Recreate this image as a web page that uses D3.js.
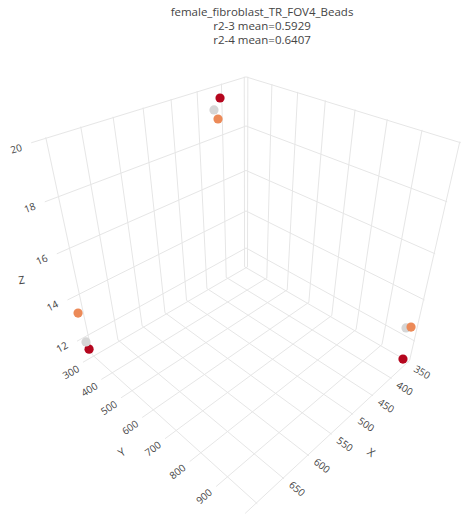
<!DOCTYPE html>
<html>
<head>
<meta charset="utf-8">
<script src="https://cdn.jsdelivr.net/npm/d3@7"></script>
<style>
body { margin: 0; background: #fff; }
text { font-family: "Open Sans", verdana, arial, sans-serif; fill: #444; }
</style>
</head>
<body>
<div id="chart"></div>
<script>
// title
var titleLines = ["female_fibroblast_TR_FOV4_Beads", "r2-3 mean=0.5929", "r2-4 mean=0.6407"];

// axis ranges and ticks
var xRange = [346, 720];
var yRange = [292, 1003];
var zRange = [10.96, 20.03];
var xTicks = [350, 400, 450, 500, 550, 600, 650, 700];
var yTicks = [300, 400, 500, 600, 700, 800, 900, 1000];
var zTicks = [12, 14, 16, 18, 20];
var xTickLabels = ["350", "400", "450", "500", "550", "600", "650"];
var yTickLabels = ["300", "400", "500", "600", "700", "800", "900"];
var zTickLabels = ["12", "14", "16", "18", "20"];

// bead positions, one array per series
var refX = [431.6, 710.8, 357.0];
var refY = [322.6, 313.0, 976.3];
var refZ = [19.31, 11.99, 12.62];

var r23X = [427.5, 713.3, 357.0];
var r23Y = [330.3, 313.0, 990.7];
var r23Z = [18.96, 13.45, 12.78];

var r24X = [424.7, 708.4, 357.0];
var r24Y = [335.7, 313.0, 987.7];
var r24Z = [19.76, 11.58, 11.11];

var series = [
  {name: "ref",  xs: refX, ys: refY, zs: refZ, color: "#d6d6d6"},
  {name: "r2-3", xs: r23X, ys: r23Y, zs: r23Z, color: "#ec8a58"},
  {name: "r2-4", xs: r24X, ys: r24Y, zs: r24Z, color: "#b5061e"}
];

var width = 461, height = 518;

// data -> unit cube
var sx = d3.scaleLinear().domain(xRange).range([-1, 1]);
var sy = d3.scaleLinear().domain(yRange).range([-1, 1]);
var sz = d3.scaleLinear().domain(zRange).range([-1, 1]);

// perspective camera, looking at the cube centre from (+x,+y,+z)
var azim = Math.PI / 4,
    elev = Math.asin(1 / Math.sqrt(3)),
    dist = 4.33,
    focal = 570.6,
    cx = 246, cy = 266;
var ca = Math.cos(azim), sa = Math.sin(azim), ce = Math.cos(elev), se = Math.sin(elev);

function project(x, y, z) {
  var X = sx(x), Y = sy(y), Z = sz(z);
  var g = X * ca + Y * sa,
      h = -X * sa + Y * ca;
  var depth = dist - g * ce - Z * se;
  var v = -g * se + Z * ce;
  return [cx + focal * h / depth, cy - focal * v / depth, depth];
}

function angle(a, b) {
  var dx = b[0] - a[0], dy = b[1] - a[1];
  if (dx < 0) { dx = -dx; dy = -dy; }
  return Math.atan2(dy, dx) * 180 / Math.PI;
}

var svg = d3.select("#chart").append("svg")
    .attr("width", width)
    .attr("height", height);

// grid lines on the three back planes
var segs = [];
xTicks.forEach(function(t) {
  segs.push([[t, yRange[0], zRange[0]], [t, yRange[0], zRange[1]]]);
  segs.push([[t, yRange[0], zRange[0]], [t, yRange[1], zRange[0]]]);
});
yTicks.forEach(function(t) {
  segs.push([[xRange[0], t, zRange[0]], [xRange[0], t, zRange[1]]]);
  segs.push([[xRange[0], t, zRange[0]], [xRange[1], t, zRange[0]]]);
});
zTicks.forEach(function(t) {
  segs.push([[xRange[0], yRange[0], t], [xRange[1], yRange[0], t]]);
  segs.push([[xRange[0], yRange[0], t], [xRange[0], yRange[1], t]]);
});

svg.append("g").selectAll("line")
    .data(segs)
    .enter().append("line")
    .attr("x1", function(d) { return project(d[0][0], d[0][1], d[0][2])[0]; })
    .attr("y1", function(d) { return project(d[0][0], d[0][1], d[0][2])[1]; })
    .attr("x2", function(d) { return project(d[1][0], d[1][1], d[1][2])[0]; })
    .attr("y2", function(d) { return project(d[1][0], d[1][1], d[1][2])[1]; })
    .attr("stroke", "#e6e6e6")
    .attr("stroke-width", 1);

// tick labels
var labels = svg.append("g").style("font-size", "10px");

zTickLabels.forEach(function(l) {
  var t = +l;
  var p = project(xRange[1], yRange[0], t);
  var a = angle(p, project(xRange[0], yRange[0], t));
  labels.append("text")
      .attr("transform", "translate(" + (p[0] - 15) + "," + (p[1] + 6) + ")rotate(" + a + ")")
      .attr("text-anchor", "middle")
      .attr("dy", "0.35em")
      .text(l);
});

yTickLabels.forEach(function(l) {
  var t = +l;
  var p = project(xRange[1], t, zRange[0]);
  var a = angle(p, project(xRange[0], t, zRange[0]));
  labels.append("text")
      .attr("transform", "translate(" + (p[0] - 12) + "," + (p[1] + 10) + ")rotate(" + a + ")")
      .attr("text-anchor", "middle")
      .attr("dy", "0.35em")
      .text(l);
});

xTickLabels.forEach(function(l) {
  var t = +l;
  var p = project(t, yRange[1], zRange[0]);
  var a = angle(project(t, yRange[0], zRange[0]), p);
  labels.append("text")
      .attr("transform", "translate(" + (p[0] + 13) + "," + (p[1] + 10) + ")rotate(" + a + ")")
      .attr("text-anchor", "middle")
      .attr("dy", "0.35em")
      .text(l);
});

// axis titles
var xMid = (xRange[0] + xRange[1]) / 2,
    yMid = (yRange[0] + yRange[1]) / 2,
    zMid = (zRange[0] + zRange[1]) / 2;
var titles = svg.append("g").style("font-size", "11px");

var px = project(xMid, yRange[1], zRange[0]);
titles.append("text")
    .attr("transform", "translate(" + (px[0] + 32) + "," + (px[1] + 25) + ")rotate(" + angle(project(xMid, yRange[0], zRange[0]), px) + ")")
    .attr("text-anchor", "middle").attr("dy", "0.35em")
    .text("X");

var py = project(xRange[1], yMid, zRange[0]);
titles.append("text")
    .attr("transform", "translate(" + (py[0] - 31) + "," + (py[1] + 25) + ")rotate(" + angle(py, project(xRange[0], yMid, zRange[0])) + ")")
    .attr("text-anchor", "middle").attr("dy", "0.35em")
    .text("Y");

var pz = project(xRange[1], yRange[0], zMid);
titles.append("text")
    .attr("transform", "translate(" + (pz[0] - 38) + "," + (pz[1] + 14) + ")rotate(" + angle(pz, project(xRange[0], yRange[0], zMid)) / 3 + ")")
    .attr("text-anchor", "middle").attr("dy", "0.35em")
    .text("Z");

// markers, far ones first
var pts = [];
series.forEach(function(s) {
  s.xs.forEach(function(x, i) {
    var p = project(x, s.ys[i], s.zs[i]);
    pts.push({px: p[0], py: p[1], depth: p[2], color: s.color});
  });
});
pts.sort(function(a, b) { return b.depth - a.depth; });

svg.append("g").selectAll("circle")
    .data(pts)
    .enter().append("circle")
    .attr("cx", function(d) { return d.px; })
    .attr("cy", function(d) { return d.py; })
    .attr("r", 4.6)
    .attr("fill", function(d) { return d.color; });

// chart title, one text per line
svg.append("g").selectAll("text")
    .data(titleLines)
    .enter().append("text")
    .attr("x", 262)
    .attr("y", function(d, i) { return 16 + i * 14; })
    .attr("text-anchor", "middle")
    .style("font-size", "11.5px")
    .text(function(d) { return d; });
</script>
</body>
</html>
